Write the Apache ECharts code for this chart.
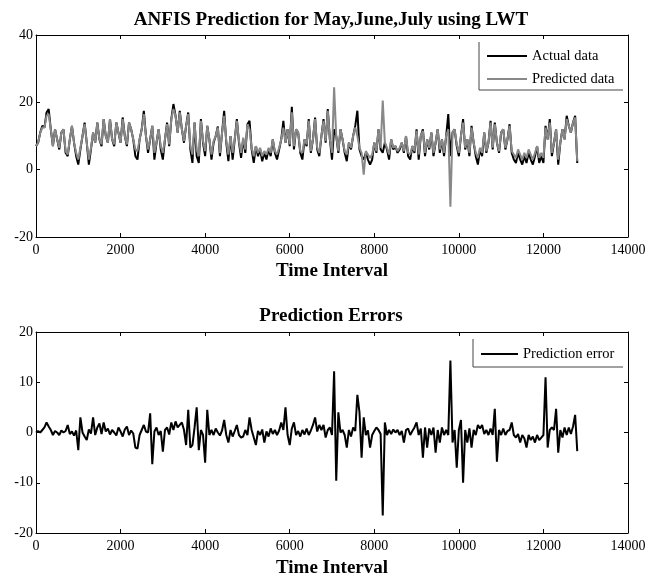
<!DOCTYPE html>
<html><head><meta charset="utf-8">
<script src="https://cdn.jsdelivr.net/npm/echarts@6/dist/echarts.min.js"></script>
<style>html,body{margin:0;padding:0;background:#fff}#c{width:662px;height:581px}</style>
</head><body><div id="c"></div>
<script>
// sampling grid of the time interval axis (one reading every 50 samples)
const sampleStep = 50;

const actualData = [
 7,8,11,13,12.5,17,18,12,7,12,9,6,11,12,5,4,9,13,8,4,
 1.5,6,10,14,8,1.5,6,11,8,14,9,7,15,10,8,15,9,7,14,11,
 8,15.5,10,7,14,12,9,4,3,9,12,17.5,10,5,9,13,3,8,12,6,
 3,9,14,7,15,19.5,16,11,17.5,12,8,13,17,6,2,14,4,2,15,8,
 4,13,9,3,8,10,12.8,4,11,17.5,8,2.5,10,3,9,15,8,3.5,9,5,
 13.5,14.5,6,2,7,4,6,2.5,5,3,6,4,9,5,3,6,9,14.5,8,12,
 7,18.7,6,12,11,5,3,9,7,15,5,9,15.5,6,4,10,15,8,18,9,
 3,12,10,5,12,9,5,2.5,8,6,10,13,17.5,6,4,3,5,3,1.5,3,
 8,5,12,6,5,8,6,3,9,6,7,5,6,8,5,10,4,3,7,5,
 12,3,10,12,4,9,6,11,4,8,12,5,9,4,10,16.5,4,11,12,7,
 4,10,15,6,9,4,13,8,4,1.5,6,4,11,5,8,14.5,6,14,8,5,
 11,12,6,9,13.5,5,3,2,5,3,1.5,4,2,5,3,1.5,4,7,2,4,
 2,13,9,15,4,8,12,1.5,8,12,9,16,13,11,14,16,2
];

const predictedData = [
 7,8,11,12.5,12.5,16,16.5,12,7,12,9,6.5,11,12,5.5,4.5,9,13,8,5,
 3,6.5,10,13.5,8,3,6.5,11,8,14,9,7.5,15,10,8,15,9,7.5,14,11,
 8,15,10,7.5,14,12,9,6,5.5,9,12,16.5,10,6,9,13,5,8,12,7,
 5,9,13.5,7.5,15,18,16,11,17,12,8.5,13,16.5,7,4.5,14,6,4,14.5,8.5,
 5.5,13,9,4.5,8.5,10,12.5,5,11,16,8.5,4.5,10,5,9,14.5,8.5,5,9.5,6,
 13.5,12,6.5,4,7,5,6.5,4,5.5,4.5,6.5,5,9,5.5,4.5,6.5,9,12.5,8,12,
 7.5,17,7,12,11,5.5,5,9,7.5,14.5,5.5,9,15,6.5,5,10,14.5,8.5,17.5,9,
 5,24.5,10,5.5,12,9,5.5,4.5,8,6.5,10,12.5,10,6.5,5,-1.5,5.5,4.5,3.5,4.5,
 8,5.5,12,6.5,20.5,8,6.5,4.5,9,6.5,7,5.5,6.5,8,5.5,10,5,4.5,7,5.5,
 11.5,4.5,10,11.5,5,9,6.5,11,5,8,12,6,9,5,10,12,-11,11,12,7.5,
 5,10,14,6.5,9,5,12.5,8,5,3.5,6.5,5,11,5.5,8,14,6.5,13.5,8,5.5,
 11,12,6.5,9,13,5.5,4.5,3.5,6,4.5,3,5,3.5,6,4.5,3,5,7,3.5,5,
 3.5,12.5,9,14,5,8,12,3,8,12,9,15,13,11,14,15.5,2.5
];

const predictionError = [
 0,0.3,0,0.5,1,2,1.2,0.5,-0.5,0.3,0,-0.5,0.4,0,0.3,1.5,-0.3,0.2,-0.6,0.4,
 -3.5,3,0,-0.8,-1.5,0.6,-0.2,3,-0.5,1,1.8,-0.3,2,0.2,0.8,-0.4,0.5,0,-0.6,1,
 0.2,-0.8,0.6,1.2,-0.5,0.4,-0.2,-3,-3.2,-0.5,0.5,1.5,0.2,0,3.8,-6.3,0.2,1,-0.5,0.3,
 -3.8,0.5,1,-0.4,2,0.5,2.2,1,1.5,2,0.5,-2.5,4.5,-3,-2.5,1,5,-3.5,0.5,-0.5,
 -6,4.5,-0.5,0.5,-0.5,0.8,0,-0.6,0.4,2.5,-0.5,-2,0.5,-0.8,0.3,1.5,-0.5,-1,-0.8,0.5,
 -0.5,3,0.5,-1,-2.5,0.3,-0.5,0.6,-2,0.2,-0.8,0.8,-0.3,0.5,-0.5,0.4,2,0.5,5,-0.5,
 -2.5,0.8,2,-0.5,0.3,-0.8,0.5,-0.4,0.8,-0.5,0.4,1.5,3,0.2,1.5,0.5,1.5,-1,0.5,1,
 -0.5,12.2,-9.6,4,0,0.5,-0.5,-3,0.5,-0.8,1,0.3,7.5,4,-5,3,-0.5,0.4,-3,-0.5,
 0.3,1,0.5,-0.3,-16.5,2,-0.5,0.5,-0.3,0.6,0,0.5,-0.5,0.3,-2,0.5,0.8,-0.5,0.3,1,
 2,-0.5,0.8,-5,1,-3,0.8,-0.5,1,-4,0.5,-2,1,-0.5,0.5,-0.5,14.3,-2,0.5,-7,
 0.5,2.5,-10,0.5,-2,0.8,-3,0.5,-0.5,1.5,0.8,1.5,-0.3,0.5,-0.5,0.8,-0.5,4.7,-5.8,0.5,
 -0.5,0.8,-0.5,0.3,0.5,2,-0.5,-1,-0.3,-2,-0.5,-1.2,-3,-0.5,-1.5,-0.8,-2,-0.5,-1.5,-1,
 -0.5,11,-3,0.5,1,0.5,4.7,-4,0.5,-1,1,-0.5,1,-0.3,1.2,3.5,-3.7
];

const titles = ['ANFIS Prediction for May,June,July using LWT', 'Prediction Errors'];
const xAxisTitle = 'Time Interval';
const seriesNames = ['Actual data', 'Predicted data', 'Prediction error'];
const xRange = [0, 14000, 2000];
const yRangeTop = [-20, 40, 20];
const yRangeBottom = [-20, 20, 10];

const FONT = '"Liberation Serif","Times New Roman",serif';
const pairs = arr => arr.map((v, i) => [i * sampleStep, v]);

function xAx(grid, pos, withName, nameGap) {
  return {
    gridIndex: grid, type: 'value', position: pos,
    min: xRange[0], max: xRange[1], interval: xRange[2],
    name: withName ? xAxisTitle : '', nameLocation: 'middle', nameGap: nameGap,
    nameTextStyle: {fontFamily: FONT, fontWeight: 'bold', fontSize: 19, color: '#000'},
    axisLine: {show: true, onZero: false, lineStyle: {color: '#000', width: 1}},
    axisTick: {show: true, inside: true, length: 4, lineStyle: {color: '#000'}},
    axisLabel: {show: pos === 'bottom', fontFamily: FONT, fontSize: 14, color: '#000', margin: 6,
                formatter: v => String(v)},
    splitLine: {show: false}
  };
}
function yAx(grid, pos, r) {
  return {
    gridIndex: grid, type: 'value', position: pos,
    min: r[0], max: r[1], interval: r[2],
    axisLine: {show: true, onZero: false, lineStyle: {color: '#000', width: 1}},
    axisTick: {show: true, inside: true, length: 4, lineStyle: {color: '#000'}},
    axisLabel: {show: pos === 'left', fontFamily: FONT, fontSize: 14, color: '#000', margin: 3,
                formatter: v => String(v)},
    splitLine: {show: false}
  };
}

const legendText = {fontFamily: FONT, fontSize: 14.5, color: '#000', lineHeight: 16};

const chart = echarts.init(document.getElementById('c'), null, {renderer: 'canvas'});
chart.setOption({
  animation: false,
  backgroundColor: '#fff',
  title: [
    {text: titles[0], left: 'center', top: 6, textStyle: {fontFamily: FONT, fontWeight: 'bold', fontSize: 19, color: '#000'}},
    {text: titles[1], left: 'center', top: 302, textStyle: {fontFamily: FONT, fontWeight: 'bold', fontSize: 19, color: '#000'}}
  ],
  grid: [
    {left: 36, right: 34, top: 35, height: 202},
    {left: 36, right: 34, top: 332, height: 201}
  ],
  xAxis: [xAx(0, 'bottom', true, 25), xAx(0, 'top', false, 0), xAx(1, 'bottom', true, 26), xAx(1, 'top', false, 0)],
  yAxis: [yAx(0, 'left', yRangeTop), yAx(0, 'right', yRangeTop), yAx(1, 'left', yRangeBottom), yAx(1, 'right', yRangeBottom)],
  legend: [
    {data: [seriesNames[0], seriesNames[1]], orient: 'vertical', left: 487, top: 48, padding: 0,
     icon: 'rect', itemWidth: 40, itemHeight: 2, itemGap: 7, textStyle: legendText},
    {data: [seriesNames[2]], orient: 'vertical', left: 481, top: 346, padding: 0,
     icon: 'rect', itemWidth: 37, itemHeight: 2, textStyle: legendText}
  ],
  graphic: [
    {type: 'polyline', shape: {points: [[479, 42], [479, 90], [623, 90]]}, style: {stroke: '#444', lineWidth: 1, fill: null}},
    {type: 'polyline', shape: {points: [[473, 339], [473, 367], [623, 367]]}, style: {stroke: '#444', lineWidth: 1, fill: null}}
  ],
  series: [
    {name: seriesNames[0], type: 'line', xAxisIndex: 0, yAxisIndex: 0, data: pairs(actualData),
     symbol: 'none', lineStyle: {color: '#000', width: 2}, itemStyle: {color: '#000'}},
    {name: seriesNames[1], type: 'line', xAxisIndex: 0, yAxisIndex: 0, data: pairs(predictedData),
     symbol: 'none', lineStyle: {color: '#888888', width: 2}, itemStyle: {color: '#888888'}},
    {name: seriesNames[2], type: 'line', xAxisIndex: 2, yAxisIndex: 2, data: pairs(predictionError),
     symbol: 'none', lineStyle: {color: '#000', width: 2}, itemStyle: {color: '#000'}}
  ]
});
</script></body></html>
